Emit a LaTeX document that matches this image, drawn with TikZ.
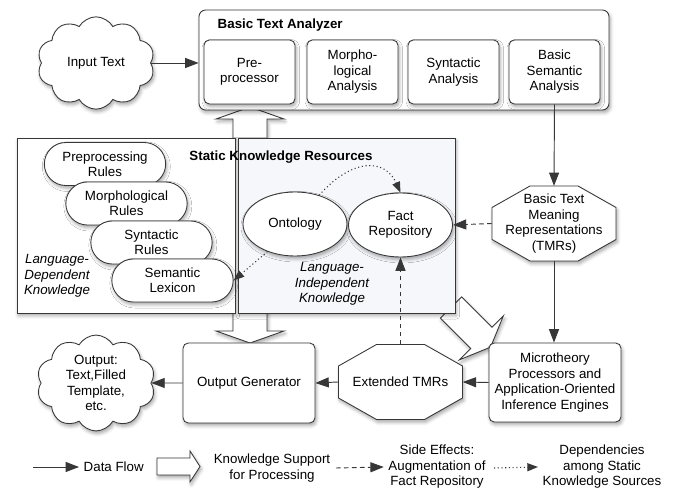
\documentclass[tikz,border=0pt]{standalone}
\usepackage{fontspec}
\setmainfont{Liberation Sans}
\usetikzlibrary{arrows.meta,shapes.geometric,shapes.misc,shapes.symbols,shadows.blur}

\definecolor{linec}{RGB}{55,55,55}
\definecolor{paleblue}{RGB}{245,247,251}

\begin{document}
\begin{tikzpicture}[x=0.75pt,y=-0.75pt,
  font=\fontsize{10}{11.6}\selectfont,
  every node/.append style={align=center},
  box/.style={draw=linec, fill=white, line width=0.65pt},
  dropsh/.style={blur shadow={shadow xshift=1pt, shadow yshift=-2pt, shadow blur radius=2.5pt, shadow opacity=35}},
  stage/.style={box, dropsh, rounded corners=4pt, minimum width=68.25pt, minimum height=48pt, inner sep=1pt},
  rulebox/.style={box, dropsh, rounded rectangle, minimum width=93pt, minimum height=32.25pt, inner sep=1pt},
  oval/.style={box, dropsh, ellipse, minimum width=78pt, minimum height=48pt, inner sep=0pt},
  puff/.style={box, dropsh, cloud, cloud puffs=10, cloud puff arc=120, inner sep=0pt},
  octtext/.style={minimum width=93pt, minimum height=56pt, inner sep=0pt},
  kbarrow/.style={box, dropsh},
  flow/.style={draw=linec, line width=0.7pt, -{Triangle[length=10pt,width=7.5pt]}},
  effect/.style={flow, dash pattern=on 3.5pt off 2.5pt},
  depend/.style={draw=linec, line width=0.8pt, dotted, -{Triangle[length=8pt,width=6pt]}},
  octa/.pic={\draw[box, dropsh] (-62,-16) -- (-24,-37.5) -- (24,-37.5) -- (62,-16) -- (62,16) -- (24,37.5) -- (-24,37.5) -- (-62,16) -- cycle;}]

\useasboundingbox (0,0) rectangle (679,491);

% knowledge support (behind the boxes)
\draw[kbarrow] (250,107) -- (284,119) -- (267,119) -- (267,331) -- (284,331) -- (250,343)
  -- (216,331) -- (233,331) -- (233,119) -- (216,119) -- cycle;
\draw[kbarrow, shift={(451,307.5)}, rotate=-45] (0,-15) -- (43,-15) -- (43,-31) -- (56,0)
  -- (43,31) -- (43,15) -- (0,15) -- cycle;

% basic text analyzer
\node[box, dropsh, rounded corners=5pt, minimum width=307.5pt, minimum height=75pt] (bta) at (404,60) {};
\node[anchor=west, font=\fontsize{10}{11.6}\selectfont\bfseries] (btatitle) at (213,25) {Basic Text Analyzer};
\node[stage] (pre) at (249.5,72) {Pre-\\processor};
\node[stage] (morph) at (352.5,72) {Morpho-\\logical\\Analysis};
\node[stage] (syn) at (453.5,72) {Syntactic\\Analysis};
\node[stage] (sem) at (554.5,72) {Basic\\Semantic\\Analysis};

\node[puff, minimum width=88pt, minimum height=56pt] (intxt) at (96,63) {Input Text};
\draw[flow] (intxt.east) -- (intxt.east -| bta.west);

% static knowledge resources
\node[box, dropsh, minimum width=163.5pt, minimum height=131.25pt] (ldk) at (126,225.5) {};
\node[box, dropsh, fill=paleblue, minimum width=162.75pt, minimum height=131.25pt] (lik) at (346.5,225.5) {};
\node[font=\fontsize{10}{11.6}\selectfont\bfseries] (skr) at (281,157) {Static Knowledge Resources};

\node[rulebox] (prep) at (105,164) {Preprocessing\\Rules};
\node[rulebox] (mrul) at (126.5,203.5) {Morphological\\Rules};
\node[rulebox] (srul) at (151.5,242.5) {Syntactic\\Rules};
\node[rulebox] (lex) at (172.5,280.5) {Semantic\\Lexicon};
\node[font=\fontsize{10}{11.6}\selectfont\itshape] (ldtxt) at (57,276) {Language-\\Dependent\\Knowledge};

\node[oval] (onto) at (295,224) {Ontology};
\node[oval] (fact) at (400.5,225) {Fact\\Repository};
\node[font=\fontsize{10}{11.6}\selectfont\itshape] (litxt) at (332,284) {Language-\\Independent\\Knowledge};
\draw[depend] (onto.50) .. controls (352,158) and (385,158) .. (fact.north);
\draw[depend] (onto.225) -- (lex.east);

% meaning representations
\pic at (554,223.5) {octa};
\node[octtext] (tmr) at (554,223.5) {Basic Text\\Meaning\\Representations\\(TMRs)};
\draw[flow] (sem.south) -- (tmr.north);
\draw[effect] (tmr.west) -- (fact.east);

\node[box, dropsh, rounded corners=4pt, minimum width=99pt, minimum height=59.25pt] (micro) at (555,382.5)
  {Microtheory\\Processors and\\Application-Oriented\\Inference Engines};
\draw[flow] (tmr.south) -- (tmr.south |- micro.north);

\pic at (400.5,382) {octa};
\node[octtext] (ext) at (400.5,382) {Extended TMRs};
\draw[flow] (micro.west) -- (ext.east);
\draw[effect] (ext.north) -- (fact.south);

\node[box, dropsh, rounded corners=4pt, minimum width=99pt, minimum height=60pt] (gen) at (249,383) {Output Generator};
\draw[flow] (ext.west) -- (gen.east);

\node[puff, minimum width=89pt, minimum height=67pt] (outtxt) at (96,383) {Output:\\Text,Filled\\Template,\\etc.};
\draw[flow] (gen.west) -- (outtxt.east);

% legend
\coordinate (lgs1) at (33,467);
\node[anchor=west] (lgflow) at (79,467) {Data Flow};
\draw[flow] (lgs1) -- (lgflow.west);
\draw[kbarrow, shift={(157,466.5)}] (0,-8.5) -- (33,-8.5) -- (33,-15.5) -- (43,0) -- (33,15.5)
  -- (33,8.5) -- (0,8.5) -- cycle;
\node (lgks) at (272,468) {Knowledge Support\\for Processing};
\coordinate (lgs2) at (336,468);
\node (lgse) at (437,467) {Side Effects:\\Augmentation of\\Fact Repository};
\draw[effect] (lgs2) -- (lgse.west);
\coordinate (lgs3) at (494,468);
\node (lgdep) at (602,467) {Dependencies\\among Static\\Knowledge Sources};
\draw[depend] (lgs3) -- (lgdep.west);
\end{tikzpicture}
\end{document}
